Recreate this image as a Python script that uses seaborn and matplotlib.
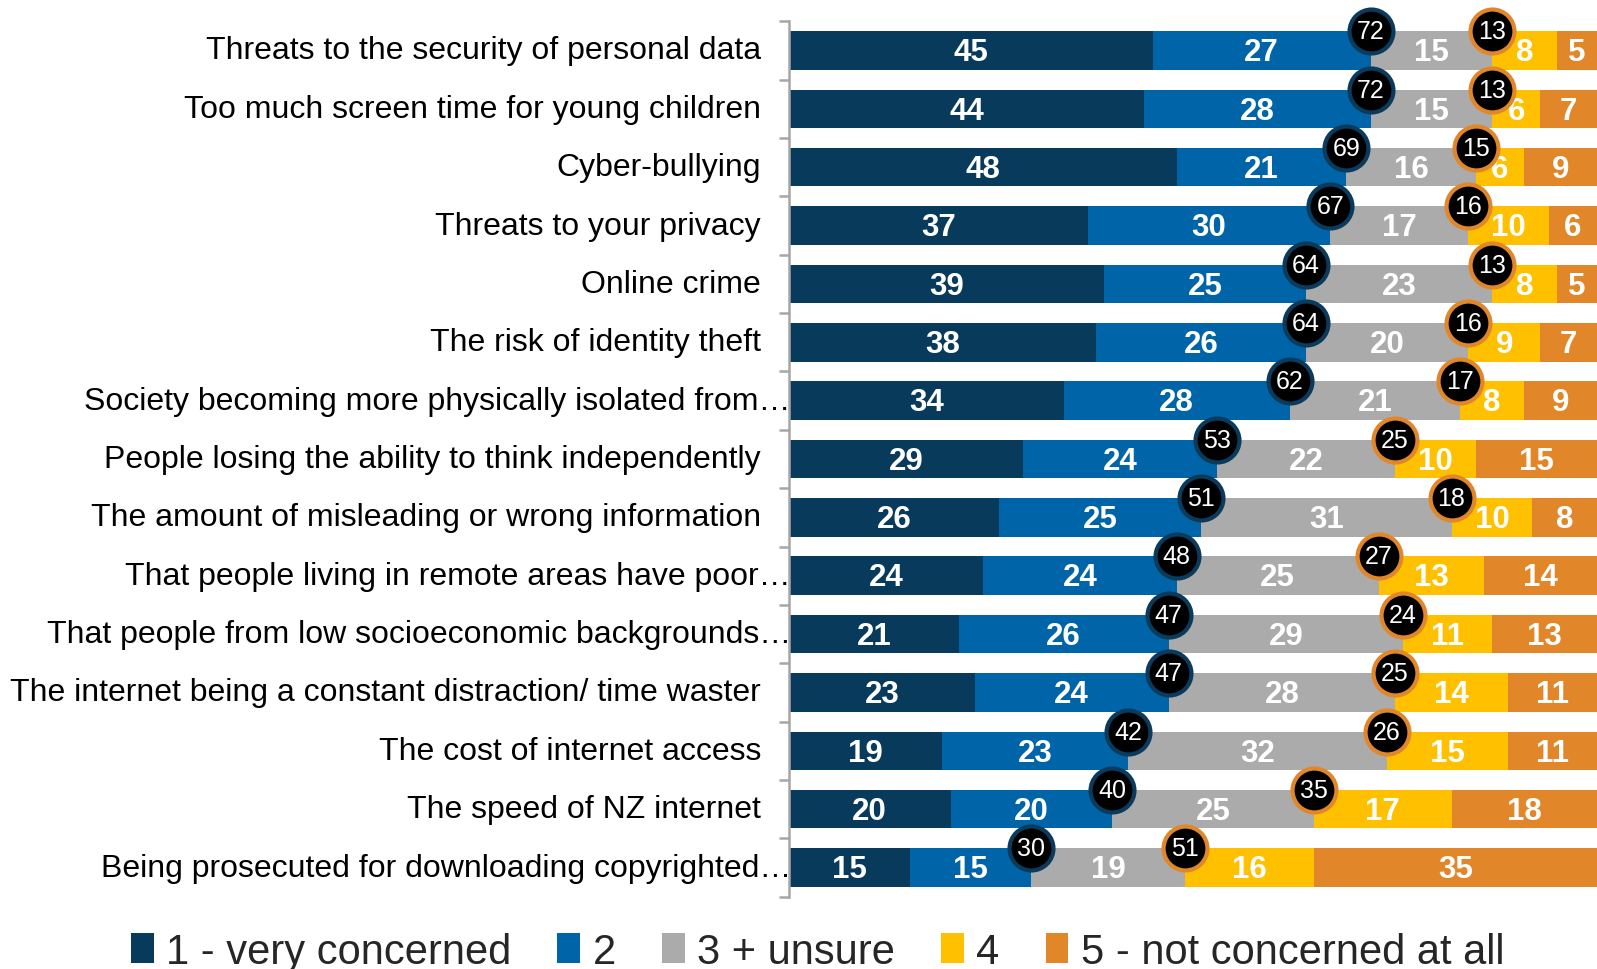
import matplotlib
matplotlib.use("Agg")
import matplotlib.pyplot as plt
from matplotlib.patches import Patch
from matplotlib.transforms import offset_copy
import seaborn as sns
import numpy as np
import pandas as pd

categories = [
    "Threats to the security of personal data",
    "Too much screen time for young children",
    "Cyber-bullying",
    "Threats to your privacy",
    "Online crime",
    "The risk of identity theft",
    "Society becoming more physically isolated from\u2026",
    "People losing the ability to think independently",
    "The amount of misleading or wrong information",
    "That people living in remote areas have poor\u2026",
    "That people from low socioeconomic backgrounds\u2026",
    "The internet being a constant distraction/ time waster",
    "The cost of internet access",
    "The speed of NZ internet",
    "Being prosecuted for downloading copyrighted\u2026",
]
very_concerned = [45, 44, 48, 37, 39, 38, 34, 29, 26, 24, 21, 23, 19, 20, 15]
level2 = [27, 28, 21, 30, 25, 26, 28, 24, 25, 24, 26, 24, 23, 20, 15]
unsure3 = [15, 15, 16, 17, 23, 20, 21, 22, 31, 25, 29, 28, 32, 25, 19]
level4 = [8, 6, 6, 10, 8, 9, 8, 10, 10, 13, 11, 14, 15, 17, 16]
not_concerned = [5, 7, 9, 6, 5, 7, 9, 15, 8, 14, 13, 11, 11, 18, 35]
top2 = [72, 72, 69, 67, 64, 64, 62, 53, 51, 48, 47, 47, 42, 40, 30]
bottom2 = [13, 13, 15, 16, 13, 16, 17, 25, 18, 27, 24, 25, 26, 35, 51]
series_names = ["1 - very concerned", "2", "3 + unsure", "4", "5 - not concerned at all"]

colors = ["#083A5C", "#0065A8", "#ABABAB", "#FFC000", "#E1872A"]
label_font = ["Liberation Sans", "DejaVu Sans"]

sns.set_style("white")
plt.rcParams["font.family"] = label_font

series = [very_concerned, level2, unsure3, level4, not_concerned]
df = pd.DataFrame({"cat": categories})
for name, vals in zip(series_names, series):
    df[name] = vals
cum = df[series_names].cumsum(axis=1)

fig = plt.figure(figsize=(15.97, 9.70), dpi=100)
ax = fig.add_axes([0.494, 0.0745, 0.506, 0.9025])

bar_h = 0.66
# overlapping cumulative bars (largest first)
for k in range(len(series_names) - 1, -1, -1):
    sns.barplot(x=cum[series_names[k]].values, y=df["cat"], orient="h",
                color=colors[k], width=bar_h, ax=ax, saturation=1,
                linewidth=0, zorder=2)

# segment labels
for i in range(len(categories)):
    left = 0
    for k, name in enumerate(series_names):
        v = df[name].iloc[i]
        ax.text(left + v / 2, i + 0.03, f"{v}", ha="center", va="center",
                color="white", fontsize=22.5, fontweight="bold", zorder=3)
        left += v

# circle markers
ytop = np.arange(len(categories)) - bar_h / 2
ax.scatter(top2, ytop, s=1000, facecolor="black", edgecolor="#0A3A5C",
           linewidth=3, zorder=5, clip_on=False)
xb = [100 - b for b in bottom2]
ax.scatter(xb, ytop, s=1000, facecolor="black", edgecolor="#E1872A",
           linewidth=3, zorder=5, clip_on=False)
for i in range(len(categories)):
    ax.text(top2[i], ytop[i], f"{top2[i]}", ha="center", va="center",
            color="white", fontsize=18, zorder=6)
    ax.text(xb[i], ytop[i], f"{bottom2[i]}", ha="center", va="center",
            color="white", fontsize=18, zorder=6)

ax.set_xlim(0, 100)
ax.set_ylim(len(categories) - 0.5, -0.5)
ax.set_xlabel("")
ax.set_ylabel("")
ax.set_xticks([])
ax.set_yticks(range(len(categories)))
ax.set_yticklabels([])
ax.set_yticks(np.arange(-0.5, len(categories), 1.0), minor=True)
ax.tick_params(axis="y", which="major", length=0, left=False)
ax.tick_params(axis="y", which="minor", left=True, length=7, width=1.8,
               color="#A6A6A6", direction="out")

# category labels (truncated ones reach further right, as in the source)
ytrans = ax.get_yaxis_transform()
for i, lab in enumerate(categories):
    dx = 2 if lab.endswith("\u2026") else -28
    tr = offset_copy(ytrans, fig=fig, x=dx, y=0, units="dots")
    ax.text(0, i, lab, transform=tr, ha="right", va="center",
            fontsize=23, color="black", zorder=1)

for s in ["top", "right", "bottom"]:
    ax.spines[s].set_visible(False)
ax.spines["left"].set_color("#A6A6A6")
ax.spines["left"].set_linewidth(1.8)
ax.spines["left"].set_zorder(4)

handles = [Patch(facecolor=c, edgecolor="none") for c in colors]
fig.legend(handles, series_names, loc="center", bbox_to_anchor=(0.512, 0.018),
           ncol=5, frameon=False, fontsize=30, handlelength=0.55,
           handleheight=0.7, handletextpad=0.3, columnspacing=1.1)

fig.savefig("out.png", dpi=100)
